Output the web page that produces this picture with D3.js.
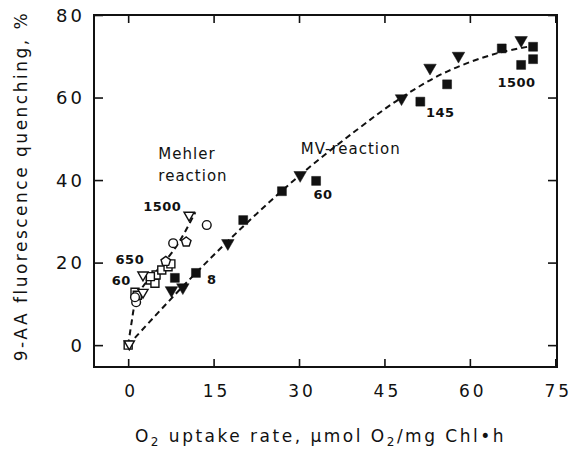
<!DOCTYPE html>
<html>
<head>
<meta charset="utf-8">
<script src="https://cdn.jsdelivr.net/npm/d3@7"></script>
<style>
  body { margin: 0; background: #fff; }
  text { font-family: "DejaVu Sans", sans-serif; fill: #111; }
</style>
</head>
<body>
<div id="graph1"></div>
<script>
// values: [O2 uptake, quenching %]
let mvSquares = [[8.2, 16.3], [11.9, 17.5], [20.2, 30.3], [27, 37.3], [33, 39.8],
    [51.3, 59], [56, 63.2], [65.6, 71.9], [71.1, 72.3], [69, 67.9], [71.1, 69.3]];
let mvTriangles = [[7.6, 13.3], [9.6, 14], [17.5, 24.7], [30.2, 41.2], [48, 59.8],
    [53, 67.2], [58, 70.1], [69, 73.9]];
let mehlerSquares = [[0, 0], [1.2, 12.8], [1.6, 12.1], [3.9, 15.8], [4.7, 15], [4.9, 17],
    [3.9, 16.6], [5.9, 18.2], [7, 19], [7.5, 19.7]];
let mehlerCircles = [[1.4, 10.4], [1.2, 11.6], [7.9, 24.7], [13.8, 29.1]];
let mehlerTriangles = [[0.2, 0.3], [2.6, 12.8], [2.6, 17], [10.7, 31.5]];
let mehlerPentagons = [[10.2, 25], [6.6, 20.3]];
// dashed fit curves
let mehlerCurve = [[0, 0], [0.6, 5.5], [1.2, 10], [2.5, 14], [5, 18], [8, 23], [10, 27.5], [11.8, 32.2]];
let mvCurve = [[0, 0], [10, 14.8], [20, 28.5], [30, 41], [40, 52], [48, 60], [56, 66.3], [64.7, 70.7], [71, 72.5]];
// point labels
let labels = [
    {x: -1.2, y: 14.6, t: "60"}, {x: 0.3, y: 19.7, t: "650"}, {x: 6, y: 32.5, t: "1500"},
    {x: 14.7, y: 14.8, t: "8"}, {x: 34.2, y: 35.5, t: "60"}, {x: 54.8, y: 55.2, t: "145"}, {x: 68.2, y: 62.5, t: "1500"}
];
let xTicks = [0, 15, 30, 45, 60, 75];
let yTicks = [0, 20, 40, 60, 80];

let width = 571, height = 449;
let margin = {top: 15, right: 14, bottom: 82, left: 94};
let w = width - margin.left - margin.right;
let h = height - margin.top - margin.bottom;

let svg = d3.select("#graph1")
    .append("svg")
    .attr("width", width)
    .attr("height", height)
    .append("g")
    .attr("transform", `translate(${margin.left}, ${margin.top})`);

let x = d3.scaleLinear().domain([-6, 75.3]).range([0, w]);
let y = d3.scaleLinear().domain([-5.3, 80]).range([h, 0]);

// axes with inward ticks on all four sides
function styleAxis(g) {
    g.select(".domain").remove();
    g.selectAll("line").attr("stroke", "#111").attr("stroke-width", 1.6);
}
svg.append("g").attr("transform", `translate(0, ${h})`)
    .call(d3.axisBottom(x).tickValues(xTicks).tickSize(-8).tickFormat(""))
    .call(styleAxis);
svg.append("g")
    .call(d3.axisTop(x).tickValues(xTicks).tickSize(-8).tickFormat(""))
    .call(styleAxis);
svg.append("g")
    .call(d3.axisLeft(y).tickValues(yTicks).tickSize(-9).tickFormat(""))
    .call(styleAxis);
svg.append("g").attr("transform", `translate(${w}, 0)`)
    .call(d3.axisRight(y).tickValues(yTicks).tickSize(-9).tickFormat(""))
    .call(styleAxis);

svg.append("rect")
    .attr("width", w).attr("height", h)
    .attr("fill", "none").attr("stroke", "#111").attr("stroke-width", 2);

svg.selectAll(".xlab").data(xTicks).enter().append("text")
    .attr("x", d => x(d) + 3)
    .attr("y", h + 30)
    .style("text-anchor", "middle")
    .style("font-size", "17px")
    .style("letter-spacing", "3px")
    .text(d => d);

svg.selectAll(".ylab").data(yTicks).enter().append("text")
    .attr("x", -9)
    .attr("y", d => y(d) + 6.5)
    .style("text-anchor", "end")
    .style("font-size", "18px")
    .style("letter-spacing", "3px")
    .text(d => d);

svg.append("text")
    .attr("transform", `translate(${-67}, ${h / 2 - 5})rotate(-90)`)
    .style("text-anchor", "middle")
    .style("font-size", "17px")
    .style("letter-spacing", "2.5px")
    .text("9-AA fluorescence quenching, %");

let xt = svg.append("text")
    .attr("x", w / 2 - 5)
    .attr("y", h + 75)
    .style("text-anchor", "middle")
    .style("font-size", "17px")
    .style("letter-spacing", "2.5px");
xt.append("tspan").text("O");
xt.append("tspan").attr("dy", 4).style("font-size", "12px").text("2");
xt.append("tspan").attr("dy", -4).text(" uptake rate, \u00b5mol O");
xt.append("tspan").attr("dy", 4).style("font-size", "12px").text("2");
xt.append("tspan").attr("dy", -4).text("/mg Chl\u2022h");

// dashed fits
let line = d3.line().x(d => x(d[0])).y(d => y(d[1])).curve(d3.curveCatmullRom);
[mehlerCurve, mvCurve].forEach(c => {
    svg.append("path").datum(c)
        .attr("d", line)
        .attr("fill", "none")
        .attr("stroke", "#111")
        .attr("stroke-width", 2)
        .attr("stroke-dasharray", "6,4");
});

let pentagon = {
    draw(ctx, size) {
        let r = Math.sqrt(size / 2.4);
        for (let i = 0; i < 5; i++) {
            let a = -Math.PI / 2 + i * 2 * Math.PI / 5;
            if (i == 0) ctx.moveTo(r * Math.cos(a), r * Math.sin(a));
            else ctx.lineTo(r * Math.cos(a), r * Math.sin(a));
        }
        ctx.closePath();
    }
};

function drawSymbols(data, type, size, filled, rot) {
    svg.append("g").selectAll("path").data(data).enter().append("path")
        .attr("transform", d => `translate(${x(d[0])}, ${y(d[1])})rotate(${rot})`)
        .attr("d", d3.symbol().type(type).size(size))
        .attr("fill", filled ? "#111" : "#fff")
        .attr("stroke", "#111")
        .attr("stroke-width", filled ? 0.5 : 1.4);
}

drawSymbols(mehlerSquares, d3.symbolSquare, 64, false, 0);
drawSymbols(mehlerCircles, d3.symbolCircle, 60, false, 0);
drawSymbols(mehlerPentagons, pentagon, 60, false, 0);
drawSymbols(mehlerTriangles, d3.symbolTriangle, 45, false, 180);
drawSymbols(mvSquares, d3.symbolSquare, 80, true, 0);
drawSymbols(mvTriangles, d3.symbolTriangle, 68, true, 180);

svg.selectAll(".plab").data(labels).enter().append("text")
    .attr("x", d => x(d.x))
    .attr("y", d => y(d.y))
    .style("text-anchor", "middle")
    .style("font-size", "13px")
    .style("font-weight", "bold")
    .style("letter-spacing", "0.5px")
    .text(d => d.t);

svg.append("text")
    .attr("x", x(5.3)).attr("y", y(45.2))
    .style("font-size", "15px")
    .style("letter-spacing", "1px")
    .text("Mehler");
svg.append("text")
    .attr("x", x(5.3)).attr("y", y(39.8))
    .style("font-size", "15px")
    .style("letter-spacing", "1px")
    .text("reaction");
svg.append("text")
    .attr("x", x(30.3)).attr("y", y(46.2))
    .style("font-size", "15px")
    .style("letter-spacing", "1px")
    .text("MV-reaction");
</script>
</body>
</html>
